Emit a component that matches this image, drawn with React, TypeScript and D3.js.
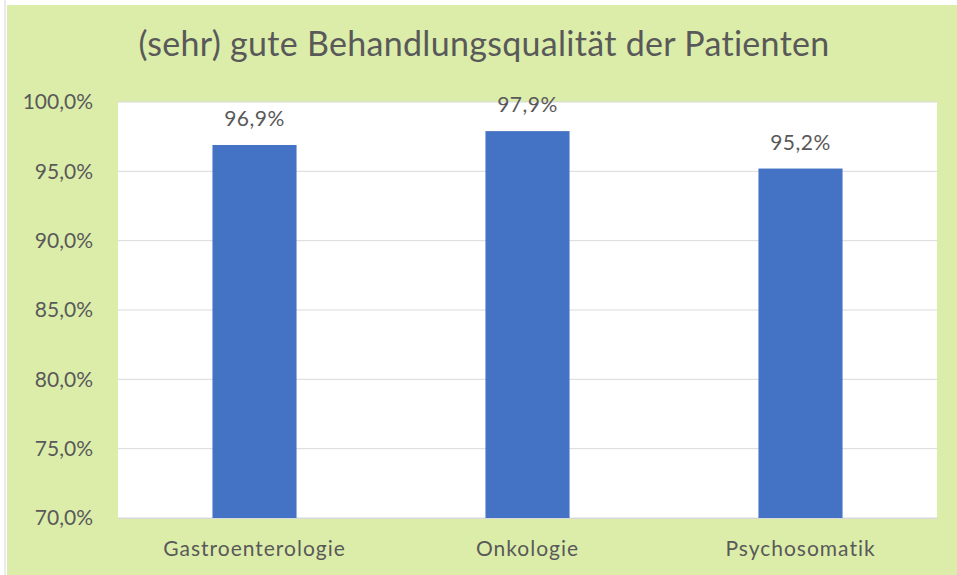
import React, { useEffect, useRef } from "react";
import * as d3 from "d3";

const categories = ["Gastroenterologie", "Onkologie", "Psychosomatik"];
const values = [96.9, 97.9, 95.2];
const yTicks = [70, 75, 80, 85, 90, 95, 100];
const title = "(sehr) gute Behandlungsqualität der Patienten";

const fmt = (v: number) => v.toFixed(1).replace(".", ",") + "%";

const App = () => {
  const svgRef = useRef<SVGSVGElement>(null);

  useEffect(() => {
    const width = 957;
    const height = 575;
    const plot = { left: 118, top: 102, right: 937, bottom: 518 };
    const font = "Lato, 'Open Sans', sans-serif";
    const textColor = "#595959";

    const svg = d3.select(svgRef.current);
    svg.selectAll("*").remove();
    svg.attr("width", width).attr("height", height);

    // page ruler on the left
    svg.append("rect").attr("width", width).attr("height", height).attr("fill", "#ffffff");
    svg
      .append("line")
      .attr("x1", 5).attr("x2", 5).attr("y1", 0).attr("y2", height)
      .attr("stroke", "#d6d6d6");

    // chart background
    svg
      .append("rect")
      .attr("x", 7)
      .attr("y", 5)
      .attr("width", width - 7)
      .attr("height", height - 5)
      .attr("fill", "#dcedaa");

    svg
      .append("rect")
      .attr("x", plot.left)
      .attr("y", plot.top)
      .attr("width", plot.right - plot.left)
      .attr("height", plot.bottom - plot.top)
      .attr("fill", "#ffffff");

    const x = d3
      .scaleBand()
      .domain(categories)
      .range([plot.left, plot.right])
      .paddingInner(0.692)
      .paddingOuter(0.346);

    const y = d3.scaleLinear().domain([70, 100]).range([plot.bottom, plot.top]);

    // gridlines
    svg
      .append("g")
      .selectAll("line")
      .data(yTicks)
      .enter()
      .append("line")
      .attr("x1", plot.left)
      .attr("x2", plot.right)
      .attr("y1", (d) => y(d))
      .attr("y2", (d) => y(d))
      .attr("stroke", "#d9d9d9")
      .attr("stroke-width", 1);

    // y labels
    svg
      .append("g")
      .selectAll("text")
      .data(yTicks)
      .enter()
      .append("text")
      .attr("x", 93)
      .attr("y", (d) => y(d))
      .attr("dy", "0.35em")
      .attr("text-anchor", "end")
      .attr("font-family", font)
      .attr("font-size", 21)
      .attr("fill", textColor)
      .text((d) => fmt(d));

    // bars
    svg
      .selectAll(".bar")
      .data(values)
      .enter()
      .append("rect")
      .attr("class", "bar")
      .attr("x", (_, i) => x(categories[i]) as number)
      .attr("y", (d) => y(d))
      .attr("width", x.bandwidth())
      .attr("height", (d) => y(70) - y(d))
      .attr("fill", "#4472c4");

    // value labels
    svg
      .append("g")
      .selectAll("text")
      .data(values)
      .enter()
      .append("text")
      .attr("x", (_, i) => (x(categories[i]) as number) + x.bandwidth() / 2)
      .attr("y", (d) => y(d) - 19)
      .attr("text-anchor", "middle")
      .attr("font-family", font)
      .attr("font-size", 21)
      .attr("letter-spacing", 0.5)
      .attr("fill", textColor)
      .text((d) => fmt(d));

    // x axis
    svg
      .append("g")
      .attr("transform", `translate(0,${plot.bottom})`)
      .call(d3.axisBottom(x).tickSize(0).tickPadding(0))
      .call((g) => g.select(".domain").attr("stroke", "#d9d9d9"))
      .selectAll("text")
      .attr("y", 38)
      .attr("dy", 0)
      .attr("font-family", font)
      .attr("font-size", 21)
      .attr("letter-spacing", 1)
      .attr("fill", textColor);

    svg
      .append("text")
      .attr("x", 484)
      .attr("y", 56)
      .attr("text-anchor", "middle")
      .attr("font-family", font)
      .attr("font-size", 34)
      .attr("letter-spacing", 0.3)
      .attr("fill", textColor)
      .text(title);
  }, []);

  return (
    <div style={{ position: "absolute", left: 0, top: 0 }}>
      <svg ref={svgRef}></svg>
    </div>
  );
};

export default App;
